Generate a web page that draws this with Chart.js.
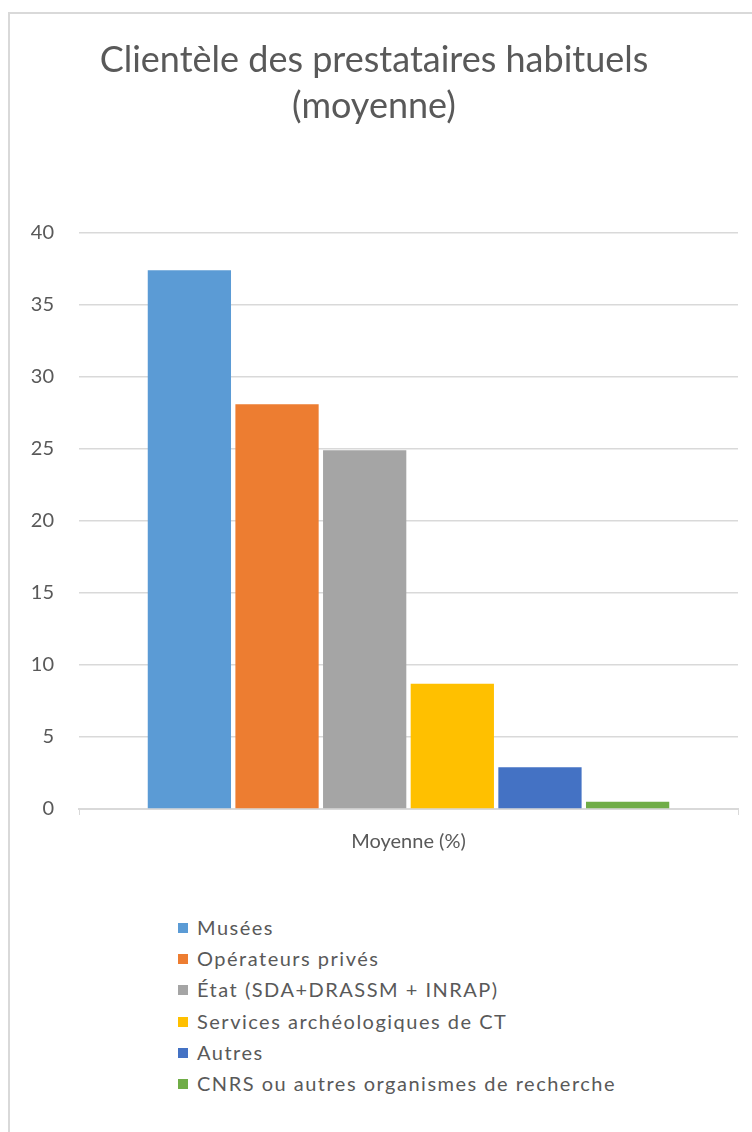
<!DOCTYPE html>
<html>
<head>
<meta charset="utf-8">
<script src="https://cdn.jsdelivr.net/npm/chart.js@4/dist/chart.umd.min.js"></script>
<style>
  body { margin: 0; background: #fff; }
  #frame {
    position: absolute; left: 8px; top: 12px; width: 760px; height: 1140px;
    border: 2px solid #d9d9d9; box-sizing: border-box; background: #fff;
  }
  #wrap { position: absolute; left: 0px; top: 0px; width: 744px; height: 873px; }
  #legend {
    position: absolute; left: 168px; top: 898px; margin: 0; padding: 0;
    list-style: none; font-family: Lato, "Open Sans", sans-serif; font-size: 20px;
    letter-spacing: 1.5px; color: #595959;
  }
  #legend li { height: 31.2px; line-height: 31.2px; white-space: nowrap; }
  #legend span.box { display: inline-block; width: 10px; height: 10px; margin-right: 9px; vertical-align: 2px; }
</style>
</head>
<body>
<div id="frame">
  <div id="wrap"><canvas id="chart"></canvas></div>
  <ul id="legend"></ul>
</div>
<script>
const categories = ['Moyenne (%)'];
const seriesNames = [
    'Musées',
    'Opérateurs privés',
    'État (SDA+DRASSM + INRAP)',
    'Services archéologiques de CT',
    'Autres',
    'CNRS ou autres organismes de recherche'
];
const seriesValues = [37.4, 28.1, 24.9, 8.7, 2.9, 0.5];
const seriesColors = ['#5b9bd5', '#ed7d31', '#a5a5a5', '#ffc000', '#4472c4', '#70ad47'];
const titleLines = ['Clientèle des prestataires habituels', '(moyenne)'];

const ctx = document.getElementById('chart').getContext('2d');

const chart = new Chart(ctx, {
    type: 'bar',
    data: {
        labels: categories,
        datasets: seriesNames.map((name, i) => ({
            label: name,
            data: [seriesValues[i]],
            backgroundColor: seriesColors[i],
            borderWidth: 0,
            categoryPercentage: 0.798,
            barPercentage: 0.95
        }))
    },
    options: {
        responsive: true,
        maintainAspectRatio: false,
        animation: false,
        layout: { padding: { left: 0, right: 16, top: 0, bottom: 18 } },
        plugins: {
            legend: { display: false },
            tooltip: { enabled: false },
            title: {
                display: true,
                text: titleLines,
                color: '#595959',
                font: { family: 'Lato, "Open Sans", sans-serif', size: 36, weight: 'normal', lineHeight: 1.26 },
                padding: { top: 24, bottom: 104 }
            }
        },
        scales: {
            x: {
                grid: { drawOnChartArea: false, color: '#d9d9d9', tickLength: 6 },
                border: { color: '#d9d9d9', width: 2 },
                ticks: {
                    color: '#595959',
                    padding: 15,
                    font: { family: 'Lato, "Open Sans", sans-serif', size: 20 }
                }
            },
            y: {
                min: 0,
                max: 40,
                ticks: {
                    stepSize: 5,
                    color: '#595959',
                    padding: 25,
                    font: { family: 'Lato, "Open Sans", sans-serif', size: 20 }
                },
                grid: { color: '#d9d9d9', lineWidth: 1.5, drawTicks: false },
                border: { display: false },
                afterFit: scale => { scale.width = 69; }
            }
        }
    }
});

// legend, one item per line, built from the chart's datasets
const legendEl = document.getElementById('legend');
chart.data.datasets.forEach(ds => {
    const li = document.createElement('li');
    const box = document.createElement('span');
    box.className = 'box';
    box.style.background = ds.backgroundColor;
    li.appendChild(box);
    li.appendChild(document.createTextNode(ds.label));
    legendEl.appendChild(li);
});
</script>
</body>
</html>
